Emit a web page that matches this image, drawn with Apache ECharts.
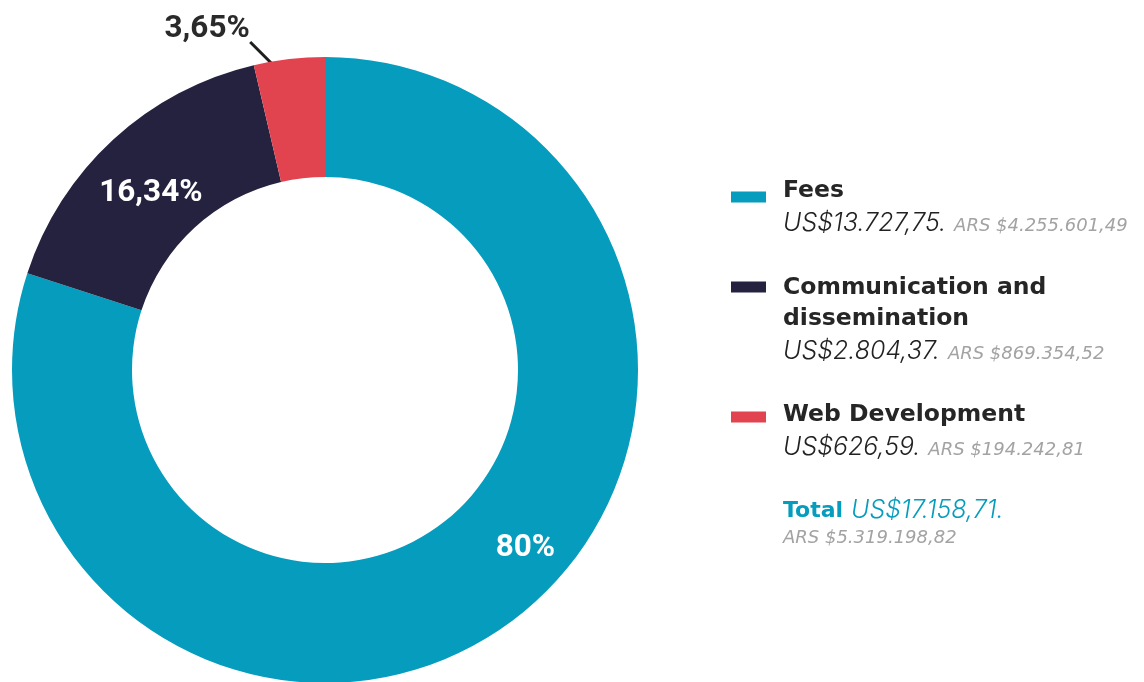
<!DOCTYPE html>
<html>
<head>
<meta charset="utf-8">
<script src="https://cdn.jsdelivr.net/npm/echarts@6/dist/echarts.min.js"></script>
<style>
html,body{margin:0;padding:0;background:#fff;}
#chart{width:1144px;height:682px;}
</style>
</head>
<body>
<div id="chart"></div>
<script>
// ---- data ----
var categories = ['Fees', 'Communication and\ndissemination', 'Web Development'];
var values = [13727.75, 2804.37, 626.59];
var percentLabels = ['80%', '16,34%', '3,65%'];
var usdLabels = ['US$13.727,75.', 'US$2.804,37.', 'US$626,59.'];
var arsLabels = ['ARS $4.255.601,49', 'ARS $869.354,52', 'ARS $194.242,81'];
var totalLabel = 'Total';
var totalUsd = 'US$17.158,71.';
var totalArs = 'ARS $5.319.198,82';
var colors = ['#059cbd', '#25223f', '#e2444f'];

// ---- chart ----
var chart = echarts.init(document.getElementById('chart'));
var HFONT = '"DejaVu Sans", sans-serif';
var IFONT = 'Inter, sans-serif';
var PFONT = 'Roboto, sans-serif';

var pieData = values.map(function (v, i) {
  var inside = i < 2;
  return {
    name: categories[i],
    value: v,
    itemStyle: { color: colors[i] },
    label: {
      show: true,
      position: inside ? 'inside' : 'outside',
      formatter: percentLabels[i],
      color: inside ? '#ffffff' : '#2a2a2a',
      fontFamily: PFONT,
      fontWeight: 'bold',
      fontSize: 31.5
    },
    labelLine: {
      show: !inside,
      showAbove: true,
      length: 10,
      length2: 0,
      lineStyle: { color: '#1e1e1e', width: 3 }
    }
  };
});

var labelOffsets = [[50, -29], [-1, 12]];

// legend layout (drawn as graphic text)
var legendX = 731;
var textX = 783;
var iconCenters = [197, 287, 417];
var nameCenters = [191, 303.5, 415];
var amountCenters = [222, 350, 446];
var richAmount = function (col) {
  return {
    u: { fontFamily: IFONT, fontStyle: 'italic', fontWeight: 300, fontSize: 25, fill: col, verticalAlign: 'bottom', lineHeight: 27 },
    a: { fontFamily: HFONT, fontStyle: 'italic', fontWeight: 'normal', fontSize: 18, fill: '#a3a3a3', verticalAlign: 'bottom', lineHeight: 22, padding: [0, 0, 0, 8] },
    t: { fontFamily: HFONT, fontWeight: 'bold', fontSize: 22, fill: colors[0], verticalAlign: 'bottom', lineHeight: 25, padding: [0, 8, 0, 0] }
  };
};
var graphics = [];
categories.forEach(function (c, i) {
  graphics.push({
    type: 'rect', left: legendX, top: iconCenters[i] - 5.5,
    shape: { width: 35, height: 11 }, style: { fill: colors[i] }
  });
  graphics.push({
    type: 'text', x: textX, y: nameCenters[i],
    style: {
      text: c, fill: '#262626', fontFamily: HFONT, fontWeight: 'bold', fontSize: 23.5,
      verticalAlign: 'middle', align: 'left', lineHeight: 31
    }
  });
  graphics.push({
    type: 'text', x: textX, y: amountCenters[i],
    style: {
      text: '{u|' + usdLabels[i] + '}{a|' + arsLabels[i] + '}',
      verticalAlign: 'middle', align: 'left',
      rich: richAmount('#222222')
    }
  });
});
graphics.push({
  type: 'text', x: textX, y: 509,
  style: {
    text: '{t|' + totalLabel + '}{u|' + totalUsd + '}',
    verticalAlign: 'middle', align: 'left',
    rich: richAmount(colors[0])
  }
});
graphics.push({
  type: 'text', x: textX, y: 538,
  style: {
    text: totalArs, fill: '#a3a3a3', fontFamily: HFONT, fontStyle: 'italic', fontSize: 18,
    verticalAlign: 'middle', align: 'left'
  }
});

chart.setOption({
  animation: false,
  backgroundColor: '#ffffff',
  series: [{
    type: 'pie',
    center: [325, 370],
    radius: [193, 313],
    startAngle: 90,
    clockwise: true,
    avoidLabelOverlap: false,
    data: pieData,
    labelLayout: function (params) {
      var i = params.dataIndex;
      if (i < 2) {
        return { dx: labelOffsets[i][0], dy: labelOffsets[i][1] };
      }
      var p = params.labelLinePoints;
      if (!p) return {};
      var sx = p[0][0], sy = p[0][1];
      return {
        x: sx - 82, y: sy - 30, align: 'center', verticalAlign: 'middle',
        labelLinePoints: [[sx - 8, sy + 14], [sx - 39, sy - 17], [sx - 39, sy - 17]]
      };
    }
  }],
  graphic: graphics
});
</script>
</body>
</html>
